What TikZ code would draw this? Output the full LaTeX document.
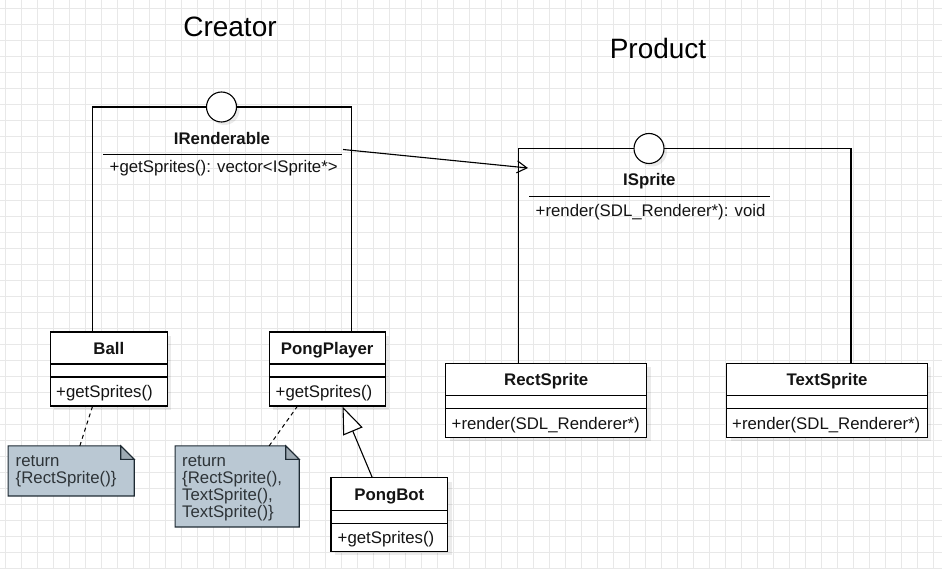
\documentclass[tikz,border=0pt]{standalone}
\usepackage{fontspec}
\setmainfont{Liberation Sans}
\usetikzlibrary{arrows.meta}
\definecolor{gridc}{HTML}{E8E8E8}
\definecolor{notefill}{HTML}{BAC8D3}
\definecolor{notedraw}{HTML}{1E2A33}
\definecolor{notetext}{HTML}{2E3438}
\definecolor{txt}{HTML}{141414}
\tikzset{
 ln/.style={line width=1.1pt, draw=black},
 cls/.style={draw=black, line width=1.1pt, fill=white, inner sep=0pt, rectangle},
 shd/.style={fill=black, opacity=0.08},
 ttl/.style={font=\fontsize{16.8}{17}\selectfont\bfseries, text=txt, anchor=base, inner sep=0pt},
 mth/.style={font=\fontsize{16.8}{17}\selectfont, text=txt, anchor=base west, inner sep=0pt},
 big/.style={font=\fontsize{28}{30}\selectfont, text=black, anchor=base, inner sep=0pt},
 lolli/.style={circle, draw=black, line width=1.1pt, fill=white, minimum size=30pt, inner sep=0pt},
 notebody/.style={draw=none, inner sep=0pt, rectangle},
 noteshape/.style={draw=notedraw, fill=notefill, line width=1.1pt, line join=miter},
 foldshape/.style={draw=notedraw, fill=notefill!85!black, line width=1.1pt},
 notetxt/.style={font=\fontsize{16.8}{17}\selectfont, text=notetext, align=left, anchor=base west, inner sep=0pt},
 notelink/.style={draw=black, line width=1pt, dash pattern=on 4pt off 3.5pt},
 inherit/.style={draw=black, line width=1.1pt, -{Triangle[length=27pt, width=21pt, fill=white]}},
 depend/.style={draw=black, line width=1.1pt, -{Straight Barb[length=10pt, width=12pt]}},
}
\begin{document}
\begin{tikzpicture}[x=1pt,y=-1pt]
\useasboundingbox (0,0) rectangle (942,569);
\fill[white] (0,0) rectangle (942,569);
% grid
\foreach \i in {0,...,58} \draw[gridc, line width=0.8pt] ({5+16*\i},0) -- ({5+16*\i},569);
\foreach \j in {0,...,35} \draw[gridc, line width=0.8pt] (0,{8+16*\j}) -- (942,{8+16*\j});

% titles
\node[big] (creator) at (230,36.7) {Creator};
\node[big] (product) at (658,58.3) {Product};

% ---------- classes ----------
% Ball
\fill[shd] (54,336) rectangle (171.3,410);
\node[cls, minimum width=117pt, minimum height=74pt] (ball) at (108.8,369) {};
\draw[ln] (50.3,364) -- (167.3,364) (50.3,377) -- (167.3,377);
\node[ttl] (ballt) at (108.8,354.3) {Ball};
\node[mth] (ballm) at (56,397.5) {+getSprites()};

% PongPlayer
\fill[shd] (273,336) rectangle (389.3,410);
\node[cls, minimum width=116.3pt, minimum height=74pt] (pp) at (327.2,369) {};
\draw[ln] (269,364) -- (385.3,364) (269,377) -- (385.3,377);
\node[ttl] (ppt) at (327.2,354.3) {PongPlayer};
\node[mth] (ppm) at (275.5,397.5) {+getSprites()};

% PongBot
\fill[shd] (335,481.7) rectangle (451.7,555.3);
\node[cls, minimum width=116.7pt, minimum height=73.6pt] (pbot) at (389.3,514.5) {};
\draw[ln] (331,510.3) -- (447.7,510.3) (331,523.7) -- (447.7,523.7);
\node[ttl] (pbott) at (389.3,500.3) {PongBot};
\node[mth] (pbotm) at (337.5,543.5) {+getSprites()};

% RectSprite
\fill[shd] (449.7,367.3) rectangle (650.7,441.3);
\node[cls, minimum width=201pt, minimum height=74pt] (rect) at (546.2,400.3) {};
\draw[ln] (445.7,395.7) -- (646.7,395.7) (445.7,408.7) -- (646.7,408.7);
\node[ttl] (rectt) at (546.2,385.7) {RectSprite};
\node[mth] (rectm) at (451.5,429) {+render(SDL\_Renderer*)};

% TextSprite
\fill[shd] (730.7,367.3) rectangle (931.3,441.3);
\node[cls, minimum width=200.6pt, minimum height=74pt] (text) at (827,400.3) {};
\draw[ln] (726.7,395.7) -- (927.3,395.7) (726.7,408.7) -- (927.3,408.7);
\node[ttl] (textt) at (827,385.7) {TextSprite};
\node[mth] (textm) at (732,429) {+render(SDL\_Renderer*)};

% ---------- interfaces ----------
% IRenderable
\coordinate (irTL) at (92.3,107);
\coordinate (irTR) at (351.7,107);
\draw[ln] (ball.north -| irTL) -- (irTL) -- (irTR) -- (pp.north -| irTR);
\fill[shd] (224.5,110) circle (15);
\node[lolli] (irc) at (221.5,107) {};
\node[ttl] (irt) at (222,144.3) {IRenderable};
\draw[black, line width=1pt] (103,155) -- (342,155);
\node[mth] (irm) at (109.5,172.5) {+getSprites(): vector<ISprite*>};

% ISprite
\coordinate (isTL) at (518.7,148.5);
\coordinate (isTR) at (851,148.5);
\draw[ln] (rect.north -| isTL) -- (isTL) -- (isTR) -- (text.north -| isTR);
\fill[shd] (652,151.5) circle (15);
\node[lolli] (isc) at (649,148.5) {};
\node[ttl] (ist) at (649.3,185.7) {ISprite};
\draw[black, line width=1pt] (529,196.5) -- (770,196.5);
\node[mth] (ism) at (535.5,216.5) {+render(SDL\_Renderer*): void};

% dependency arrow
\coordinate (depS) at (343,149.5);
\coordinate (depE) at (528,168);
\draw[depend] (depS) -- (depE);

% ---------- notes ----------
\node[notebody, minimum width=125.7pt, minimum height=49.7pt] (n1) at (71.2,470.9) {};
\draw[noteshape] (n1.north west) -- ([xshift=-13.5pt]n1.north east) -- ([yshift=-13.5pt]n1.north east) -- (n1.south east) -- (n1.south west) -- cycle;
\draw[foldshape] ([xshift=-13.5pt]n1.north east) -- ([xshift=-13.5pt,yshift=-13.5pt]n1.north east) -- ([yshift=-13.5pt]n1.north east) -- cycle;
\node[notetxt] (n1t) at (15.5,483) {return\\\{RectSprite()\}};

\node[notebody, minimum width=123.7pt, minimum height=80.7pt] (n2) at (237.2,486.4) {};
\draw[noteshape] (n2.north west) -- ([xshift=-13.5pt]n2.north east) -- ([yshift=-13.5pt]n2.north east) -- (n2.south east) -- (n2.south west) -- cycle;
\draw[foldshape] ([xshift=-13.5pt]n2.north east) -- ([xshift=-13.5pt,yshift=-13.5pt]n2.north east) -- ([yshift=-13.5pt]n2.north east) -- cycle;
\node[notetxt] (n2t) at (182,517) {return\\\{RectSprite(),\\TextSprite(),\\TextSprite()\}};

% note links
\draw[notelink] ([xshift=71.7pt]n1.north west) -- ([xshift=42.7pt]ball.south west);
\draw[notelink] ([xshift=94pt]n2.north west) -- ([xshift=28.7pt]pp.south west);

% inheritance
\draw[inherit] ([xshift=41.7pt]pbot.north west) -- ([xshift=74pt]pp.south west);
\end{tikzpicture}
\end{document}
